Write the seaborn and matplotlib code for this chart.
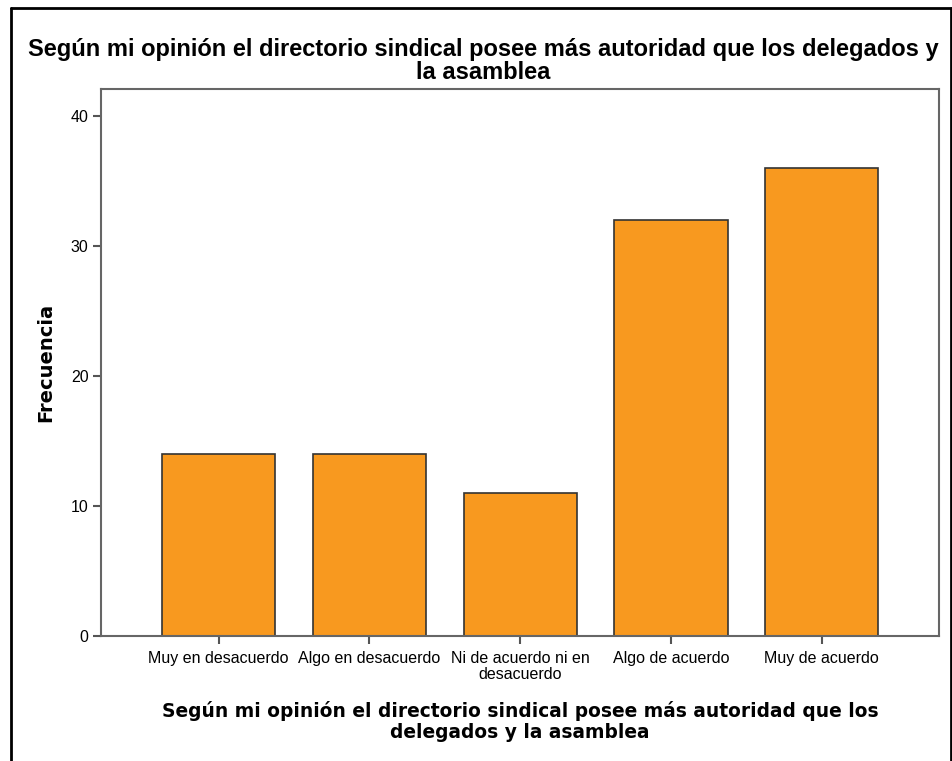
import matplotlib
matplotlib.use("Agg")
import matplotlib.pyplot as plt
import seaborn as sns
import pandas as pd

categories = ["Muy en desacuerdo", "Algo en desacuerdo", "Ni de acuerdo ni en\ndesacuerdo",
              "Algo de acuerdo", "Muy de acuerdo"]
frecuencia = [14, 14, 11, 32, 36]
y_ticks = [0, 10, 20, 30, 40]
title = "Según mi opinión el directorio sindical posee más autoridad que los delegados y\nla asamblea"
xlabel = "Según mi opinión el directorio sindical posee más autoridad que los\ndelegados y la asamblea"
ylabel = "Frecuencia"

sns.set_theme(style="white")
plt.rcParams['font.family'] = ['Liberation Sans', 'DejaVu Sans']
plt.rcParams['text.color'] = 'black'
plt.rcParams['axes.labelcolor'] = 'black'
plt.rcParams['xtick.color'] = 'black'
plt.rcParams['ytick.color'] = 'black'

df = pd.DataFrame({"cat": categories, "freq": frecuencia})

fig = plt.figure(figsize=(9.53, 7.61), dpi=100)
ax = fig.add_axes([0.106, 0.164, 0.879, 0.719])

sns.barplot(data=df, x="cat", y="freq", color="#F8991F", saturation=1, width=0.75,
            edgecolor="#333333", linewidth=1.2, ax=ax)

ax.set_xlim(-0.78, 4.775)
ax.set_ylim(0, 42.1)
ax.set_yticks(y_ticks)
ax.set_yticklabels([str(v) for v in y_ticks], fontsize=11.5)
ax.set_xticks(range(len(categories)))
ax.set_xticklabels(categories, fontsize=11.5, linespacing=1.1)
ax.tick_params(axis='both', direction='out', length=6, width=1.5, color="#555555",
               labelcolor='black', bottom=True, left=True, pad=3)
ax.tick_params(axis='x', pad=4.5)
for s in ax.spines.values():
    s.set_color("#666666")
    s.set_linewidth(1.5)
    s.set_visible(True)

ax.set_xlabel(xlabel, fontsize=13.4, fontweight='bold', family=['DejaVu Sans'], labelpad=14,
              linespacing=1.1, color='black')
ax.set_ylabel(ylabel, fontsize=14, fontweight='bold', family=['DejaVu Sans'], labelpad=11,
              color='black')

fig.text(483 / 953, 1 - 61 / 761, title, ha='center', va='center', fontsize=17,
         fontweight='bold', linespacing=0.95, color='black')

# figure frame (left, top, right)
fig.add_artist(plt.Line2D([11 / 953, 11 / 953], [0, 1 - 8 / 761], color='black', lw=2, transform=fig.transFigure))
fig.add_artist(plt.Line2D([11 / 953, 951 / 953], [1 - 8 / 761, 1 - 8 / 761], color='black', lw=2, transform=fig.transFigure))
fig.add_artist(plt.Line2D([951 / 953, 951 / 953], [0, 1 - 8 / 761], color='black', lw=2, transform=fig.transFigure))

fig.savefig("out.png", dpi=100)
